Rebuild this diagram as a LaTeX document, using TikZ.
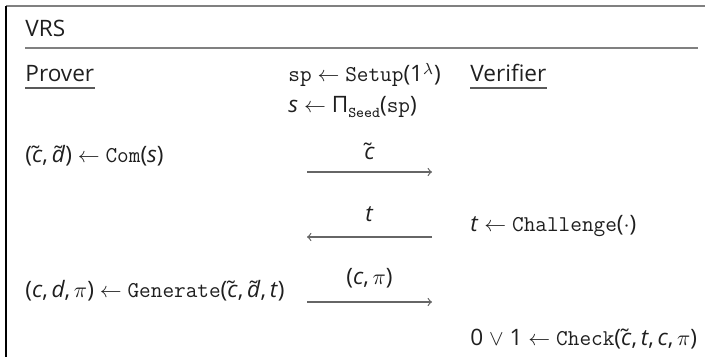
\documentclass[tikz,border=0pt]{standalone}
\usepackage{fontspec}
\setmainfont{Open Sans}
\newcommand\vv[1]{\textit{#1}}
\newcommand\tl[1]{\~{\textit{#1}}}
\newcommand\fn[1]{\texttt{#1}}
\newcommand\la{\ensuremath{\leftarrow}}
\begin{document}
\begin{tikzpicture}[x=0.5pt,y=-0.5pt,
  txt/.style={anchor=base west, inner sep=0pt, font=\fontsize{11.3}{13}\selectfont, text=black!88},
  lbl/.style={anchor=base, inner sep=0pt, font=\fontsize{11.3}{13}\selectfont, text=black!88},
  msg/.style={draw=black!60, line width=0.6pt, -to},
  ul/.style={draw=black!65, line width=0.6pt},
  frame/.style={line width=0.9pt}]
\useasboundingbox (0,0) rectangle (705,357);
% frame
\coordinate (ftl) at (6,6);
\coordinate (ftr) at (705,6);
\coordinate (fbl) at (6,357);
\draw[frame, draw=black!50] (ftl) -- (ftr);
\draw[frame, draw=black] (ftl) -- (fbl);
% title
\node[txt] (title) at (25,37) {VRS};
\coordinate (r1) at (25,48);
\coordinate (r2) at (698,48);
\draw[draw=black!50, line width=0.9pt] (r1) -- (r2);
% headers
\node[txt] (prover) at (25,82) {Prover};
\draw[ul] ([yshift=-3pt]prover.base west) -- ([yshift=-3pt]prover.base east);
\node[txt] (setup) at (288,82) {\fn{sp} \la{} \fn{Setup}(1$^\lambda$)};
\node[txt] (verifier) at (470,82) {Verifier};
\draw[ul] ([yshift=-3pt]verifier.base west) -- ([yshift=-3pt]verifier.base east);
\node[txt] (seed) at (288,113) {\vv{s} \la{} Π\raisebox{-0.2em}{\fontsize{7.5}{8}\selectfont\ttfamily Seed}(\fn{sp})};
% round 1
\node[txt] (com) at (25,163) {(\tl{c},\,\tl{d}) \la{} \fn{Com}(\vv{s})};
\coordinate (a1s) at (307,172);
\coordinate (a1e) at (432,172);
\draw[msg] (a1s) -- (a1e);
\node[lbl] (l1) at (369.5,160) {\tl{c}};
% round 2
\coordinate (a2s) at (432,237);
\coordinate (a2e) at (307,237);
\draw[msg] (a2s) -- (a2e);
\node[lbl] (l2) at (369.5,222) {\vv{t}};
\node[txt] (chal) at (470,232) {\vv{t} \la{} \fn{Challenge}($\cdot$)};
% round 3
\node[txt] (gen) at (25,297) {(\vv{c},\,\vv{d},\,$\pi$) \la{} \fn{Generate}(\tl{c},\,\tl{d},\,\vv{t})};
\coordinate (a3s) at (307,302);
\coordinate (a3e) at (432,302);
\draw[msg] (a3s) -- (a3e);
\node[lbl] (l3) at (369.5,285) {(\vv{c},\,$\pi$)};
\node[txt] (check) at (470,345) {0 $\vee$ 1 \la{} \fn{Check}(\tl{c},\,\vv{t},\,\vv{c},\,$\pi$)};
\end{tikzpicture}
\end{document}
